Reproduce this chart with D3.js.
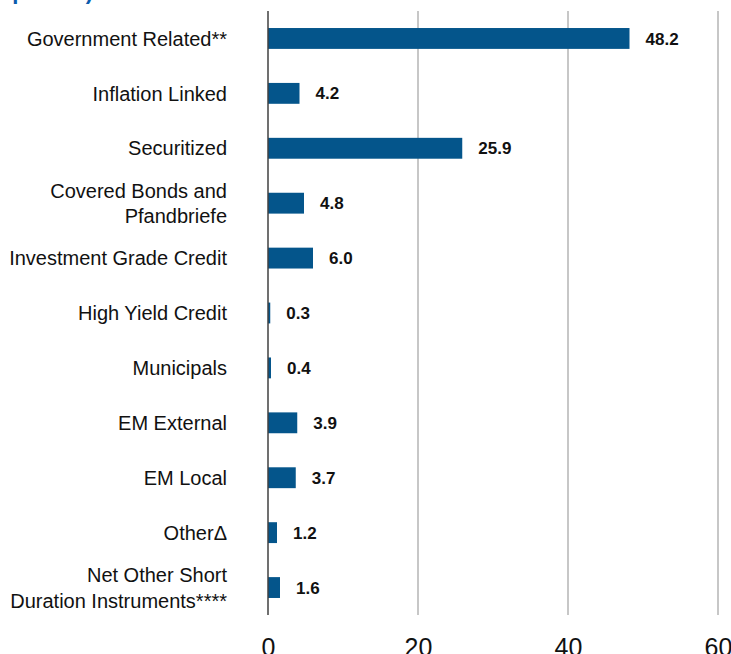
<!DOCTYPE html>
<html>
<head>
<meta charset="utf-8">
<script src="https://cdn.jsdelivr.net/npm/d3@7"></script>
<style>
	html, body { margin: 0; padding: 0; background: #fff; overflow: hidden; }
	svg { display: block; }
</style>
</head>
<body>
<svg id="chart" width="731" height="654"></svg>
<script>
// chart data
const categories = [
	['Government Related**'],
	['Inflation Linked'],
	['Securitized'],
	['Covered Bonds and', 'Pfandbriefe'],
	['Investment Grade Credit'],
	['High Yield Credit'],
	['Municipals'],
	['EM External'],
	['EM Local'],
	['Other\u0394'],
	['Net Other Short', 'Duration Instruments****'],
];
const values = [48.2, 4.2, 25.9, 4.8, 6.0, 0.3, 0.4, 3.9, 3.7, 1.2, 1.6];
const xTicks = [0, 20, 40, 60];
const titleText = 'Sector Allocation (% Duration Weighted Exposure)';

const font = '"Liberation Sans Narrow", "Arial Narrow", "Liberation Sans", Arial, sans-serif';
const barColor = '#04558b';

const svg = d3.select('#chart');
const data = values.map((v, i) => ({ key: i, label: categories[i], value: v }));

const x = d3.scaleLinear().domain([0, 60]).range([268, 718]);
const y = d3.scaleBand()
	.domain(data.map((d) => d.key))
	.range([11, 615])
	.paddingInner(0.62)
	.paddingOuter(0.31);

// clipped title at the very top
svg.append('text')
	.attr('x', 93)
	.attr('y', -1)
	.attr('text-anchor', 'end')
	.style('font-family', '"Liberation Sans", Arial, sans-serif')
	.style('font-weight', 'bold')
	.style('font-size', '22px')
	.style('fill', '#0b5cad')
	.text(titleText);

// gridlines
svg.append('g')
	.selectAll('line')
	.data(xTicks.filter((t) => t > 0))
	.join('line')
	.attr('x1', (d) => x(d))
	.attr('x2', (d) => x(d))
	.attr('y1', 11)
	.attr('y2', 615)
	.style('stroke', '#b4b4b4')
	.style('stroke-width', 1.5);

// bars
svg.append('g')
	.selectAll('rect')
	.data(data)
	.join('rect')
	.attr('x', x(0))
	.attr('y', (d) => y(d.key))
	.attr('width', (d) => x(d.value) - x(0))
	.attr('height', y.bandwidth())
	.attr('fill', barColor);

// axis line at zero
svg.append('line')
	.attr('x1', x(0))
	.attr('x2', x(0))
	.attr('y1', 11)
	.attr('y2', 615)
	.style('stroke', '#404040')
	.style('stroke-width', 1.5);

// value labels
svg.append('g')
	.selectAll('text')
	.data(data)
	.join('text')
	.attr('x', (d) => x(d.value) + 16)
	.attr('y', (d) => y(d.key) + y.bandwidth() / 2)
	.attr('dy', '0.36em')
	.style('font-family', font)
	.style('font-weight', 'bold')
	.style('font-size', '17px')
	.style('fill', '#111')
	.text((d) => d.value.toFixed(1));

// category labels
const cat = svg.append('g')
	.selectAll('text')
	.data(data)
	.join('text')
	.attr('x', 227)
	.attr('y', (d) => y(d.key) + y.bandwidth() / 2)
	.attr('text-anchor', 'end')
	.style('font-family', font)
	.style('font-size', '20px')
	.style('fill', '#111');

cat.selectAll('tspan')
	.data((d) => d.label.map((t, i) => ({ t, i, n: d.label.length })))
	.join('tspan')
	.attr('x', 227)
	.attr('dy', (d) => (d.i === 0 ? `${0.36 - (d.n - 1) * 0.64}em` : '1.28em'))
	.text((d) => d.t);

// bottom tick labels
svg.append('g')
	.attr('transform', 'translate(0,615)')
	.call(d3.axisBottom(x).tickValues(xTicks).tickSize(0).tickPadding(23))
	.call((g) => g.select('.domain').remove())
	.selectAll('text')
	.style('font-family', font)
	.style('font-size', '25px')
	.style('fill', '#111');
</script>
</body>
</html>
